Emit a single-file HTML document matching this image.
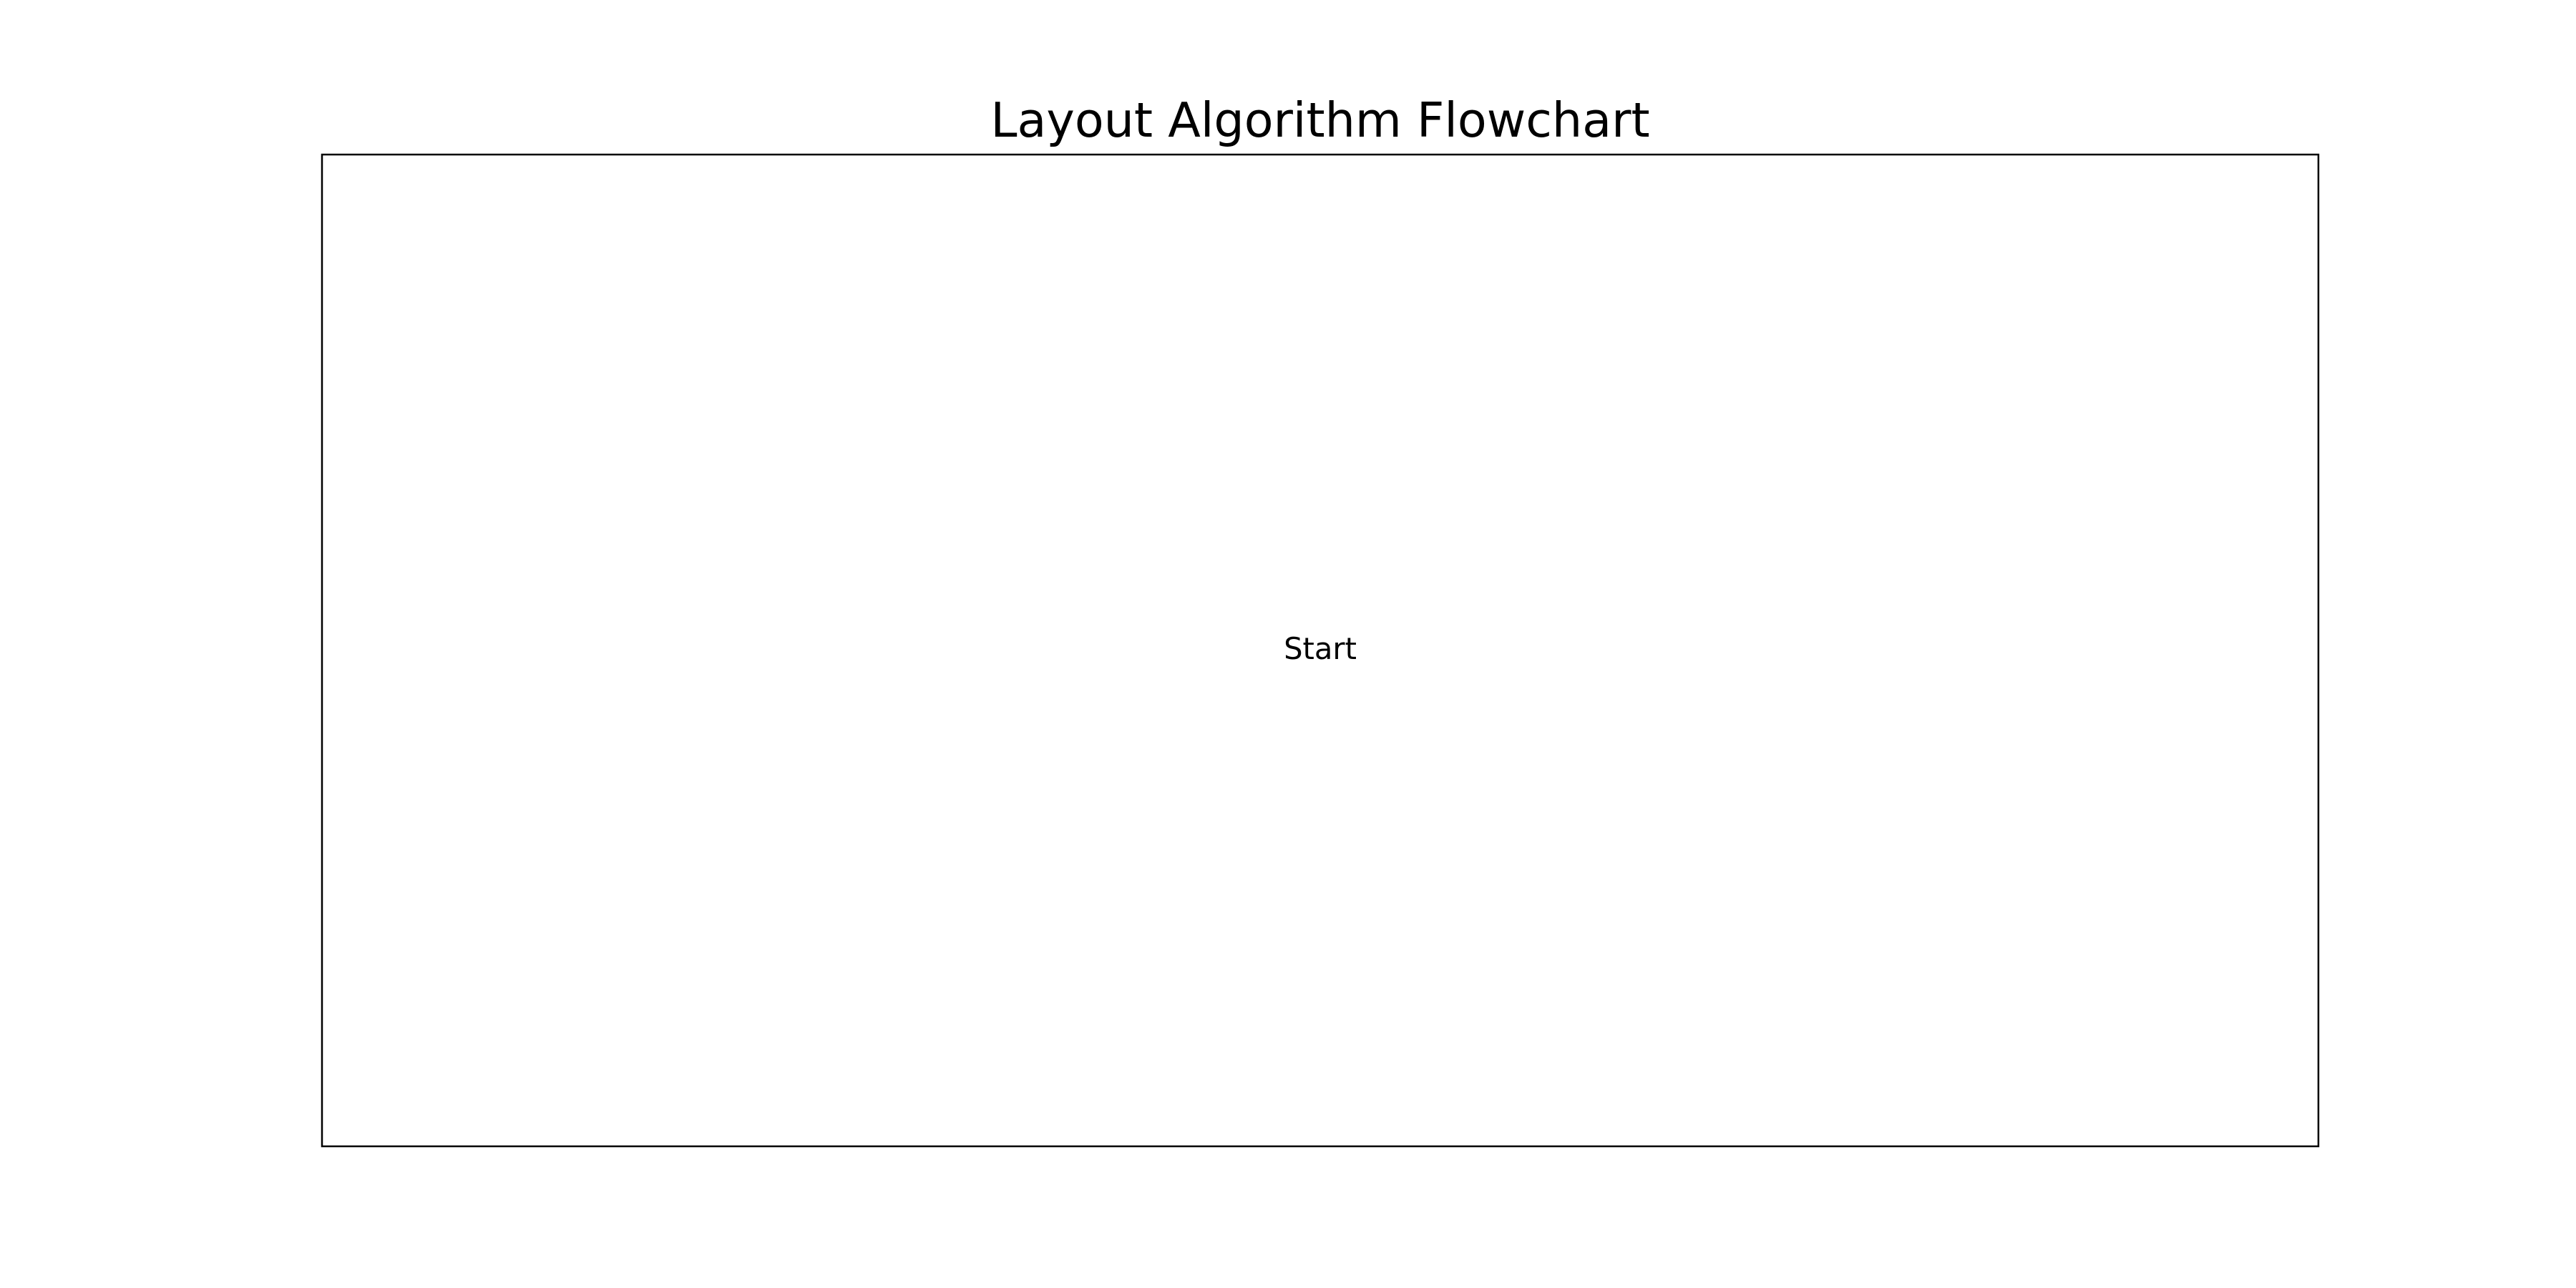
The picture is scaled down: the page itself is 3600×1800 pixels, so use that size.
<!DOCTYPE html>
<html>
<head>
<meta charset="utf-8">
<style>
  html, body { margin: 0; padding: 0; background: #ffffff; }
  svg { display: block; }
  text { font-family: "DejaVu Sans", "Liberation Sans", sans-serif; fill: #000; }
</style>
</head>
<body>
<svg width="3600" height="1800" viewBox="0 0 3600 1800" xmlns="http://www.w3.org/2000/svg">
  <rect x="0" y="0" width="3600" height="1800" fill="#ffffff"/>
  <text x="1845" y="191" font-size="66.7" text-anchor="middle">Layout Algorithm Flowchart</text>
  <rect x="450" y="216" width="2790" height="1386" fill="none" stroke="#000" stroke-width="2.5"/>
  <text x="1845" y="921" font-size="41.7" text-anchor="middle">Start</text>
</svg>
</body>
</html>
